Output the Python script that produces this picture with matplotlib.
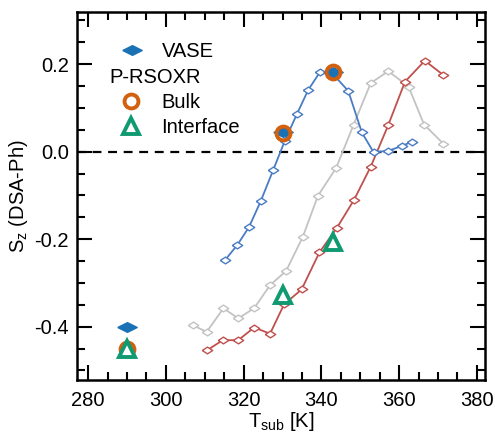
import numpy as np
from matplotlib import pyplot as plt
from matplotlib.ticker import MultipleLocator

plt.rcParams['font.family'] = ['Liberation Sans', 'DejaVu Sans']
plt.rcParams['mathtext.default'] = 'regular'

# temperature-dependent S_z curves (open diamonds)
t_blue = [315.2, 318.4, 321.4, 324.4, 327.6, 330.6, 333.7, 336.6, 339.7, 342.9,
          346.9, 350.4, 353.4, 357.2, 360.7, 363.3]
s_blue = [-0.248, -0.213, -0.172, -0.113, -0.042, 0.025, 0.086, 0.141, 0.183, 0.178,
          0.139, 0.044, -0.001, 0.002, 0.013, 0.023]

t_gray = [307.0, 310.5, 314.8, 318.6, 322.7, 326.8, 330.9, 335.2, 339.1, 343.8,
          348.3, 352.7, 357.2, 362.4, 366.4, 371.4]
s_gray = [-0.397, -0.412, -0.358, -0.381, -0.358, -0.305, -0.273, -0.195, -0.101, -0.037,
          0.062, 0.157, 0.184, 0.149, 0.062, 0.018]

t_red = [310.6, 314.6, 318.6, 322.7, 326.8, 330.4, 334.9, 339.5, 344.0, 348.4,
         352.7, 357.2, 361.5, 366.6, 371.4]
s_red = [-0.454, -0.431, -0.431, -0.402, -0.416, -0.349, -0.315, -0.230, -0.174, -0.110,
         -0.034, 0.061, 0.160, 0.208, 0.175]

# VASE / P-RSOXR points
t_vase = [290, 330, 343]
s_vase = [-0.40, 0.045, 0.182]
t_bulk = [290, 330, 343]
s_bulk = [-0.45, 0.042, 0.182]
t_intf = [290, 330, 343]
s_intf = [-0.45, -0.328, -0.206]

# flattened diamonds
open_dia = [(-1, 0), (0, 0.65), (1, 0), (0, -0.65), (-1, 0)]
flat_dia = [(-1, 0), (0, 0.5), (1, 0), (0, -0.5), (-1, 0)]

fig = plt.figure(figsize=(4.95, 4.34), dpi=100)
ax = fig.add_axes([0.156, 0.1244, 0.824, 0.8486])

ax.axhline(0, color='k', lw=1.6, ls=(0, (4, 3)), zorder=1)

ax.plot(t_gray, s_gray, color='#c3c3c3', lw=1.3, marker=open_dia, ms=7.5,
        mfc='white', mec='#c3c3c3', mew=1.0, zorder=2)
ax.plot(t_red, s_red, color='#c0504d', lw=1.3, marker=open_dia, ms=7.5,
        mfc='white', mec='#c0504d', mew=1.0, zorder=3)
ax.plot(t_blue, s_blue, color='#4a7cc4', lw=1.3, marker=open_dia, ms=7.5,
        mfc='white', mec='#4a7cc4', mew=1.0, zorder=4)

h_vase, = ax.plot(t_vase, s_vase, ls='none', marker=flat_dia, ms=14,
                  color='#1a72b5', zorder=5)
h_bulk, = ax.plot(t_bulk, s_bulk, ls='none', marker='o', ms=10, mfc='none',
                  mec='#d2600e', mew=2.8, zorder=6)
h_intf, = ax.plot(t_intf, s_intf, ls='none', marker='^', ms=11, mfc='white',
                  mec='#0f9a72', mew=2.8, zorder=7)

ax.set_xlim(277.2, 382.1)
ax.set_ylim(-0.522, 0.32)
ax.xaxis.set_major_locator(MultipleLocator(20))
ax.xaxis.set_minor_locator(MultipleLocator(5))
ax.yaxis.set_major_locator(MultipleLocator(0.2))
ax.yaxis.set_minor_locator(MultipleLocator(0.05))
ax.yaxis.set_major_formatter(plt.FuncFormatter(lambda v, p: '%.1f' % v))

ax.tick_params(which='both', direction='in', top=True, right=True,
               width=1.5, labelsize=14.5)
ax.tick_params(which='major', length=11)
ax.tick_params(which='minor', length=6)
ax.tick_params(axis='x', pad=8)
ax.tick_params(axis='y', pad=6)
for sp in ax.spines.values():
    sp.set_linewidth(1.8)

ax.set_xlabel('T$_{sub}$ [K]', fontsize=14.5, labelpad=0)
ax.set_ylabel('S$_{z}$ (DSA-Ph)', fontsize=14.5, labelpad=3)

leg1 = ax.legend([h_vase], ['VASE'], loc='upper left', bbox_to_anchor=(0.082, 0.918),
                 frameon=False, fontsize=14.5, borderpad=0, borderaxespad=0,
                 handlelength=2.15, handletextpad=0.4)
ax.add_artist(leg1)
ax.legend([h_bulk, h_intf], ['Bulk', 'Interface'], title='P-RSOXR',
          title_fontsize=14.5, alignment='left', loc='upper left',
          bbox_to_anchor=(0.080, 0.848), frameon=False, fontsize=14.5,
          borderpad=0, borderaxespad=0, handlelength=2.15, handletextpad=0.4,
          labelspacing=0.3)

plt.savefig('out.png', dpi=100)
